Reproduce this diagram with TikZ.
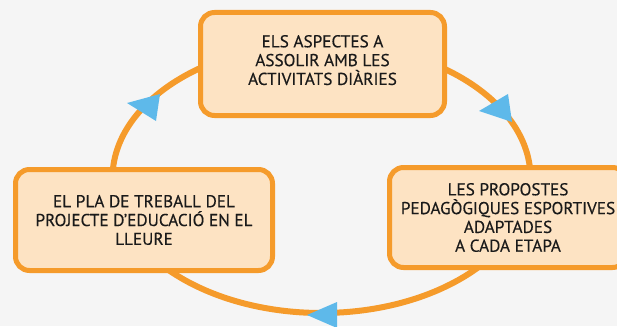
\documentclass[tikz,border=0pt]{standalone}
\usepackage{fontspec}
\setmainfont{PT Sans}[FakeBold=0.35]
\definecolor{bg}{HTML}{F5F5F5}
\definecolor{orng}{HTML}{F59B2B}
\definecolor{peach}{HTML}{FDE3C3}
\definecolor{skyb}{HTML}{5EB9EA}
\definecolor{ink}{HTML}{1A1A1A}
\begin{document}
\begin{tikzpicture}[x=1pt,y=1pt,
  box/.style={draw=orng, fill=peach, line width=5pt, rounded corners=14pt,
    align=center, font=\fontsize{17.2}{18.8}\selectfont, text=ink, inner sep=0pt},
  loop/.style={draw=orng, line width=6pt},
  tri/.style={fill=skyb, draw=none}]
\fill[bg] (0,0) rectangle (617,-326);
\useasboundingbox (0,0) rectangle (617,-326);
\coordinate (c) at (321.5,-178);
\draw[loop] (c) ellipse [x radius=209, y radius=135];
\fill[tri] (127,-103) -- (160,-94) -- (156,-121) -- cycle;
\fill[tri] (479,-111) -- (508,-94) -- (512,-122) -- cycle;
\fill[tri] (307,-315) -- (337,-302) -- (337,-328) -- cycle;
\node[box, minimum width=244, minimum height=103, text depth=8pt] (top) at (322.5,-64)
  {ELS ASPECTES A\\ASSOLIR AMB LES\\ACTIVITATS DIÀRIES};
\node[box, minimum width=257, minimum height=101] (left) at (144,-220)
  {EL PLA DE TREBALL DEL\\PROJECTE D’EDUCACIÓ EN EL\\LLEURE};
\node[box, minimum width=237, minimum height=100] (right) at (508,-217.5)
  {LES PROPOSTES\\PEDAGÒGIQUES ESPORTIVES\\ADAPTADES\\A CADA ETAPA};
\end{tikzpicture}
\end{document}
